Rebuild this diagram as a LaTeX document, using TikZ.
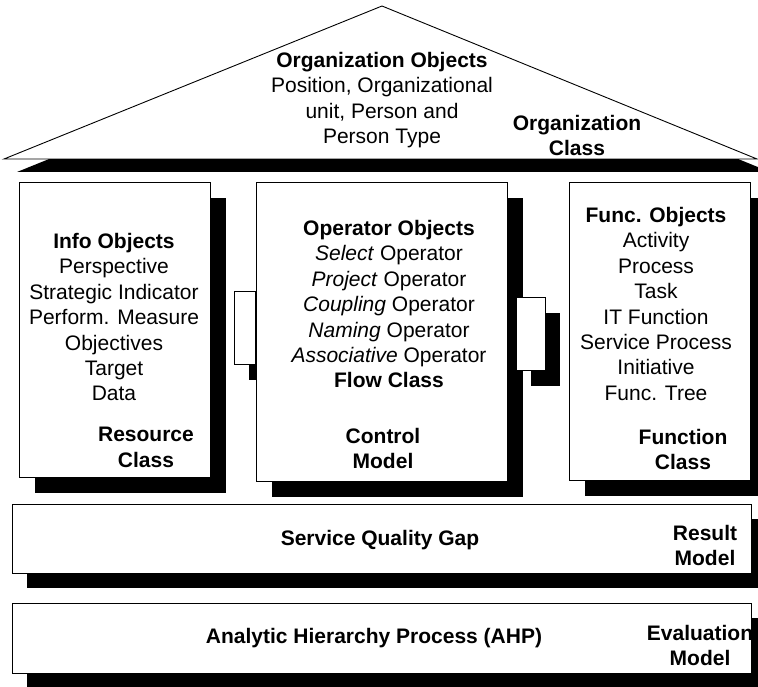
\documentclass[tikz,border=0pt]{standalone}
\usepackage{fontspec}
\setmainfont{Liberation Sans}
\usetikzlibrary{shadows}
\begin{document}
\begin{tikzpicture}[x=1pt,y=-1pt,
  outline/.style={draw=black, line width=0.9pt, fill=white},
  panel/.style={outline, rectangle, inner sep=0pt, outer sep=0pt,
    general shadow={fill=black, shadow xshift=16pt, shadow yshift=-16pt}},
  link/.style={outline, rectangle, inner sep=0pt, outer sep=0pt,
    general shadow={fill=black, shadow xshift=15pt, shadow yshift=-16pt}},
  band/.style={outline, rectangle, inner sep=0pt, outer sep=0pt,
    general shadow={fill=black, shadow xshift=15pt, shadow yshift=-15pt}},
  txt/.style={inner sep=0pt, outer sep=0pt, align=center,
    font=\fontsize{21}{25.4}\selectfont},
  ttl/.style={txt, font=\fontsize{21}{25.4}\selectfont\bfseries},
]
\clip (0,0) rectangle (758,687);

% roof with its offset shadow
\fill[black] (395,19) -- (17,172) -- (770,172) -- cycle;
\draw[outline] (382,6) -- (4,159) -- (757,159) -- cycle;
\node[txt, anchor=north] (orgobj) at (382,52.3)
  {\textbf{Organization Objects}\\Position, Organizational\\unit, Person and\\Person Type};
\node[ttl, anchor=north] (orgcls) at (577,115.3) {Organization\\Class};

% pillars
\node[panel, minimum width=191pt, minimum height=295pt] (resource) at (114.5,329.5) {};
\node[link, minimum width=21pt, minimum height=73pt] (leftlink) at (244.5,327.5) {};
\node[panel, minimum width=251pt, minimum height=299pt] (control) at (381.5,331.5) {};
\node[link, minimum width=29pt, minimum height=73pt] (rightlink) at (530.5,333.5) {};
\node[panel, minimum width=181pt, minimum height=298pt] (function) at (659.5,331) {};

\node[txt, anchor=north] (infoobj) at (114,233.3)
  {\textbf{Info Objects}\\Perspective\\Strategic Indicator\\Perform. Measure\\Objectives\\Target\\Data};
\node[ttl, anchor=north] (rescls) at (146,427.3) {Resource\\Class};

\node[txt, anchor=north] (opobj) at (389,220.3)
  {\textbf{Operator Objects}\\\textit{Select} Operator\\\textit{Project} Operator\\
   \textit{Coupling} Operator\\\textit{Naming} Operator\\\textit{Associative} Operator\\
   \textbf{Flow Class}};
\node[ttl, anchor=north] (ctrlmod) at (383,428.3) {Control\\Model};

\node[txt, anchor=north] (funcobj) at (656,207.3)
  {\textbf{Func. Objects}\\Activity\\Process\\Task\\IT Function\\Service Process\\Initiative\\Func. Tree};
\node[ttl, anchor=north] (funccls) at (683,429.3) {Function\\Class};

% foundation bands
\node[band, minimum width=739pt, minimum height=69pt] (result) at (381.5,538.5) {};
\node[ttl, anchor=base] (sqgap) at (380,545.5) {Service Quality Gap};
\node[ttl, anchor=north] (resmod) at (705,525.3) {Result\\Model};

\node[band, minimum width=739pt, minimum height=70pt] (evaluation) at (381.5,638) {};
\node[ttl, anchor=base] (ahp) at (374,643.5) {Analytic Hierarchy Process (AHP)};
\node[ttl, anchor=north] (evalmod) at (700,625.3) {Evaluation\\Model};
\end{tikzpicture}
\end{document}
